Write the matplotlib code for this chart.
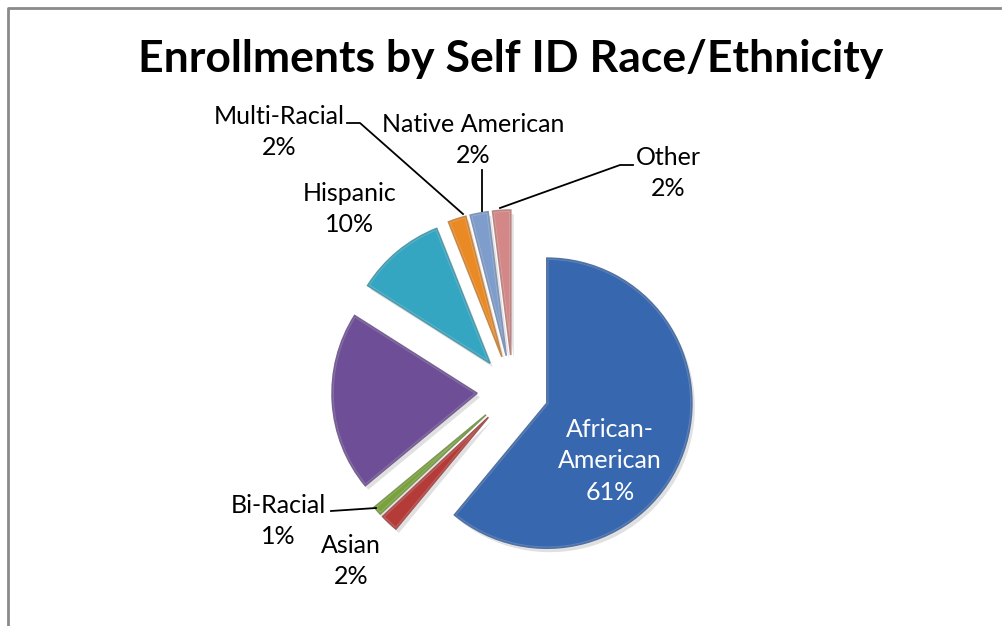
import matplotlib
matplotlib.use('Agg')
import matplotlib.pyplot as plt
import matplotlib.colors as mcolors
from matplotlib.lines import Line2D

# ---- data ----
categories = ['African-American', 'Asian', 'Bi-Racial', 'White', 'Hispanic',
              'Multi-Racial', 'Native American', 'Other']
values = [61, 2, 1, 20, 10, 2, 2, 2]
colors = ['#3767AF', '#B53B38', '#79A23C', '#6E4F97', '#35A6C1',
          '#EA8A25', '#7F9DCC', '#D38786']
title = 'Enrollments by Self ID Race/Ethnicity'

W, H = 1006, 626
fig = plt.figure(figsize=(W / 100, H / 100), dpi=100)
ax = fig.add_axes([0, 0, 1, 1])

def Y(y):
    return H - y

cx, cy, R, ex = 513, Y(391), 145, 36
explode = [ex] * len(values)
ax.pie(values, startangle=90, counterclock=False, explode=explode,
       radius=R, center=(cx + 3, cy - 4), colors=['#000000'] * len(values),
       wedgeprops=dict(linewidth=0, alpha=0.12))
wedges, _ = ax.pie(values, startangle=90, counterclock=False, explode=explode,
                   radius=R, center=(cx, cy), colors=colors,
                   wedgeprops=dict(linewidth=1.2))
for w, c in zip(wedges, colors):
    rgb = mcolors.to_rgb(c)
    w.set_edgecolor(tuple(min(1, v * 0.8) for v in rgb))
# inner lighter highlight for a bevel-like look
ax.pie(values, startangle=90, counterclock=False, explode=explode,
       radius=R, center=(cx, cy), colors=['none'] * len(values),
       wedgeprops=dict(linewidth=2.5, edgecolor=(1, 1, 1, 0.18), fill=False))

ax.set_xlim(0, W)
ax.set_ylim(0, H)
ax.set_aspect('auto')
ax.axis('off')

font = 'Lato'
fs = 18

def lab(i, x, y, name=None, color='black'):
    name = categories[i] if name is None else name
    ax.text(x, Y(y), f"{name}\n{values[i]}%", ha='center', va='center',
            fontsize=fs, family=font, color=color, linespacing=1.45)

lab(0, 610, 461, name='African-\nAmerican', color='white')
lab(1, 351, 561)
lab(2, 278, 521)
lab(4, 350, 209)
lab(5, 279, 132)
lab(6, 473, 140)
lab(7, 668, 173)

def leader(pts):
    xs = [p[0] for p in pts]
    ys = [Y(p[1]) for p in pts]
    ax.add_line(Line2D(xs, ys, color='black', lw=1.3))

leader([(347, 123), (360, 123), (463, 214)])
leader([(482, 170), (482, 211)])
leader([(500, 208), (620, 165), (633, 165)])
leader([(331, 511), (376, 508)])

ax.text(511, Y(59), title, ha='center', va='center', fontsize=32,
        fontweight='bold', family=font, color='black')

# frame
ax.add_line(Line2D([8, 8, 1000], [0, Y(8), Y(8)], color='#8a8a8a', lw=2))

fig.savefig('out.png', dpi=100)
